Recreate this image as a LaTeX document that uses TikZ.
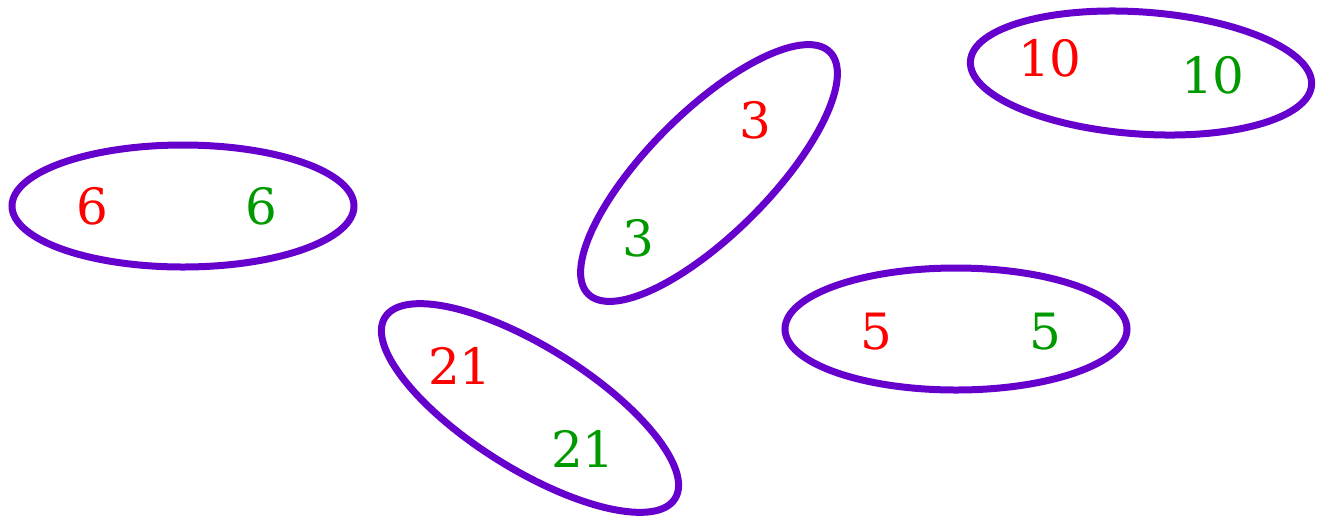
\documentclass[tikz,border=0pt]{standalone}
\usepackage{fontspec}
\setmainfont{DejaVu Serif}
\usetikzlibrary{shapes.geometric}
\definecolor{ringpurple}{HTML}{6600CC}
\definecolor{numred}{HTML}{FF0000}
\definecolor{numgreen}{HTML}{009900}
\tikzset{
  pairring/.style={draw=ringpurple,ellipse,line width=3.5pt,
                   minimum width=171pt,minimum height=61pt,inner sep=0pt},
  lhs/.style={text=numred,font=\fontsize{25}{25}\selectfont,inner sep=0pt},
  rhs/.style={text=numgreen,font=\fontsize{25}{25}\selectfont,inner sep=0pt}
}

\begin{document}
\begin{tikzpicture}[x=0.5pt,y=0.5pt]
  \useasboundingbox (0,0) rectangle (1318,-516);
  % the five rings
  \node[pairring] (ringsix) at (183,-206) {};
  \node[pairring,rotate=-4] (ringten) at (1141,-73) {};
  \node[pairring,rotate=45] (ringthree) at (709,-173) {};
  \node[pairring,rotate=-32] (ringtwentyone) at (530,-408) {};
  \node[pairring] (ringfive) at (956,-329) {};

  % numbers
  \node[lhs] (sixa) at (92,-206) {6};
  \node[rhs] (sixb) at (261,-206) {6};
  \node[lhs] (tena) at (1050,-58) {10};
  \node[rhs] (tenb) at (1213,-75) {10};
  \node[lhs] (threea) at (755,-120) {3};
  \node[rhs] (threeb) at (638,-238) {3};
  \node[lhs] (twentyonea) at (460,-366) {21};
  \node[rhs] (twentyoneb) at (583,-449) {21};
  \node[lhs] (fivea) at (876,-332) {5};
  \node[rhs] (fiveb) at (1045,-332) {5};
\end{tikzpicture}
\end{document}
